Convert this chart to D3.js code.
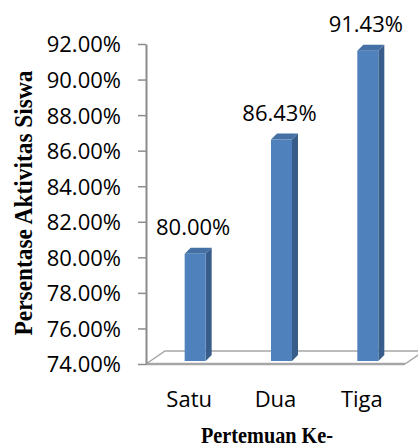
<!DOCTYPE html>
<html>
<head>
<meta charset="utf-8">
<script src="https://cdn.jsdelivr.net/npm/d3@7"></script>
<style>
  body { margin: 0; background: #fff; }
  svg { display: block; }
  .tick text { font-family: "Open Sans", sans-serif; font-size: 22px; fill: #000; }
</style>
</head>
<body>
<svg id="chart" width="418" height="448"></svg>
<script>
// data
const categories = ["Satu", "Dua", "Tiga"];
const values = [80.00, 86.43, 91.43];
const yTicks = [74, 76, 78, 80, 82, 84, 86, 88, 90, 92];

const svg = d3.select("#chart");

// plot box (front floor edge / left axis)
const plotLeft = 146, plotRight = 405, plotTop = 44, plotBottom = 364;
const depth = 6;            // bar depth offset
const floorDx = 19, floorDy = 13;

const y = d3.scaleLinear().domain([74, 92]).range([plotBottom, plotTop]);
const x = d3.scaleBand().domain(categories).range([plotLeft, plotRight]);

// floor
const floor = svg.append("g").attr("stroke", "#a6a6a6").attr("fill", "none");
floor.append("path")
    .attr("stroke-width", 1.5)
    .attr("d", `M${plotLeft},${plotBottom} L${plotLeft + floorDx},${plotBottom - floorDy} L${plotRight + floorDx},${plotBottom - floorDy} L${plotRight},${plotBottom}`);
floor.append("line")
    .attr("stroke-width", 2.5)
    .attr("x1", plotLeft).attr("x2", plotRight)
    .attr("y1", plotBottom).attr("y2", plotBottom);

// y axis
const yAxis = d3.axisLeft(y)
    .tickValues(yTicks)
    .tickFormat(d => d.toFixed(2) + "%")
    .tickSize(8)
    .tickSizeOuter(0)
    .tickPadding(17);

const ag = svg.append("g").attr("transform", `translate(${plotLeft},0)`).call(yAxis);
ag.select(".domain").attr("stroke", "#8c8c8c").attr("stroke-width", 2);
ag.selectAll(".tick line").attr("stroke", "#8c8c8c").attr("stroke-width", 1.5);
ag.selectAll(".tick text").attr("dy", "0.36em");

// bars (3D look)
const barW = 21;
const bars = svg.append("g").selectAll("g").data(values).join("g");

bars.each(function(v, i) {
  const g = d3.select(this);
  const x0 = x(categories[i]) + x.bandwidth() / 2 + 6 - barW / 2;
  const x1 = x0 + barW;
  const yt = y(v) - 3.5;
  const yb = plotBottom - 3;

  // side face
  g.append("path")
    .attr("fill", "#385d8a")
    .attr("d", `M${x1},${yt} L${x1 + depth},${yt - depth} L${x1 + depth},${yb - depth} L${x1},${yb} Z`);
  // top face
  g.append("path")
    .attr("fill", "#4470a5")
    .attr("d", `M${x0},${yt} L${x0 + depth},${yt - depth} L${x1 + depth},${yt - depth} L${x1},${yt} Z`);
  // front face
  g.append("rect")
    .attr("x", x0).attr("y", yt)
    .attr("width", barW).attr("height", yb - yt)
    .attr("fill", "#4f81bd");

  g.append("text")
    .attr("x", x0 + barW / 2 - 2)
    .attr("y", yt - 19)
    .attr("text-anchor", "middle")
    .attr("font-family", "Open Sans, sans-serif")
    .attr("font-size", 22)
    .text(v.toFixed(2) + "%");
});

// category labels
svg.append("g").selectAll("text").data(categories).join("text")
    .attr("x", d => x(d) + x.bandwidth() / 2)
    .attr("y", 407)
    .attr("text-anchor", "middle")
    .attr("font-family", "Open Sans, sans-serif")
    .attr("font-size", 22)
    .text(d => d);

// axis titles (source text is slightly condensed)
svg.append("text")
    .attr("transform", "translate(32,203) rotate(-90) scale(0.9,1)")
    .attr("text-anchor", "middle")
    .attr("font-family", "Liberation Serif, serif")
    .attr("font-weight", "bold")
    .attr("font-size", 26)
    .text("Persentase Aktivitas Siswa");

svg.append("text")
    .attr("transform", "translate(267,443) scale(0.88,1)")
    .attr("text-anchor", "middle")
    .attr("font-family", "Liberation Serif, serif")
    .attr("font-weight", "bold")
    .attr("font-size", 23)
    .text("Pertemuan Ke-");
</script>
</body>
</html>
